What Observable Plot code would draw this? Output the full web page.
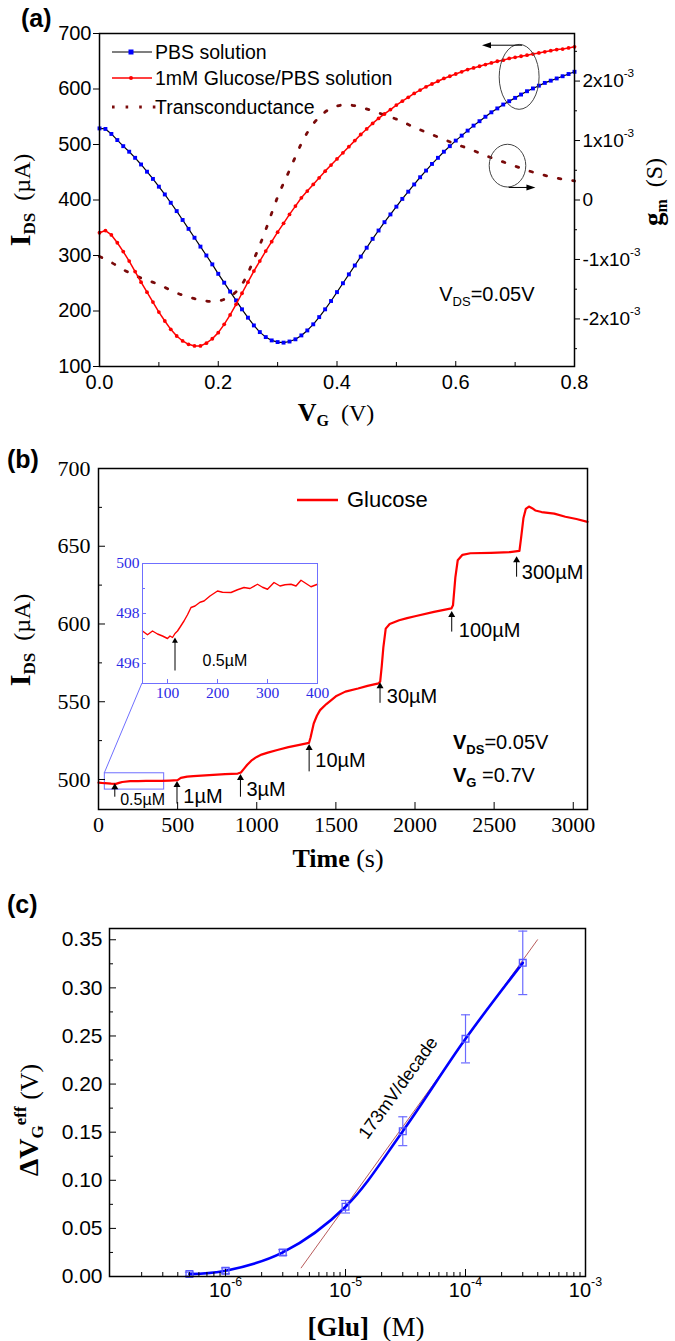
<!DOCTYPE html>
<html>
<head>
<meta charset="utf-8">
<script src="https://cdn.jsdelivr.net/npm/d3@7"></script>
<script src="https://cdn.jsdelivr.net/npm/@observablehq/plot@0.6"></script>
<style>
  html,body{margin:0;padding:0;background:#fff;}
  #wrap{position:relative;width:675px;height:1341px;overflow:hidden;background:#fff;}
  #wrap svg{position:absolute;left:0;}
  .plab{position:absolute;font-family:"Liberation Sans",Arial,sans-serif;font-weight:bold;font-size:25px;line-height:1;}
</style>
</head>
<body>
<div id="wrap">
  <div class="plab" style="left:21px;top:6px">(a)</div>
  <div class="plab" style="left:7px;top:447px">(b)</div>
  <div class="plab" style="left:7px;top:892px">(c)</div>
</div>
<script>
const SANS = "Liberation Sans, Arial, sans-serif";
const SERIF = "Liberation Serif, Times New Roman, serif";

// ================= DATA =================
// Panel (a): transfer curves, VG (V) vs IDS (µA)
const vg = [0.00,0.01,0.02,0.03,0.04,0.05,0.06,0.07,0.08,0.09,0.10,0.11,0.12,0.13,0.14,0.15,0.16,0.17,0.18,0.19,0.20,0.21,0.22,0.23,0.24,0.25,0.26,0.27,0.28,0.29,0.30,0.31,0.32,0.33,0.34,0.35,0.36,0.37,0.38,0.39,0.40,0.41,0.42,0.43,0.44,0.45,0.46,0.47,0.48,0.49,0.50,0.51,0.52,0.53,0.54,0.55,0.56,0.57,0.58,0.59,0.60,0.61,0.62,0.63,0.64,0.65,0.66,0.67,0.68,0.69,0.70,0.71,0.72,0.73,0.74,0.75,0.76,0.77,0.78,0.79,0.80];
const idsPBS = [529,528,519,508,497,487,476,464,451,438,
  424,410,395,380,364,348,332,316,300,284,
  267,251,235,219,203,188,174,162,153,147,
  144,143,145,149,156,165,176,189,203,218,
  234,250,266,282,298,314,330,345,360,374,
  388,402,415,428,441,453,465,476,487,497,
  507,516,525,534,542,550,558,565,572,578,
  584,590,596,601,606,611,615,619,623,627,
  631];
const idsGlu = [341,345,337,323,307,290,271,252,234,216,
  198,182,167,155,146,140,137,137,142,150,
  161,176,193,212,232,252,272,290,308,325,
  342,358,374,389,404,416,428,440,452,463,
  474,485,496,507,518,528,538,547,555,563,
  571,578,585,592,598,604,609,614,619,623,
  627,631,635,638,641,644,647,650,652,655,
  657,659,661,663,665,667,669,671,672,674,
  676];
// transconductance gm (units of 1e-3 S)
const gmV = [0,0.02,0.04,0.06,0.08,0.10,0.12,0.14,0.16,0.18,0.20,0.22,0.24,0.26,0.28,0.30,0.32,0.34,0.36,0.38,0.40,0.42,0.44,0.46,0.48,0.50,0.52,0.54,0.56,0.58,0.60,0.62,0.64,0.66,0.68,0.70,0.72,0.74,0.76,0.78,0.80];
const gmMilli = [-0.95,-1.05,-1.17,-1.27,-1.35,-1.42,-1.52,-1.60,-1.66,-1.70,
  -1.70,-1.62,-1.42,-1.00,-0.50,0.05,0.50,0.95,1.28,1.48,
  1.58,1.60,1.56,1.50,1.43,1.36,1.27,1.18,1.10,1.02,
  0.94,0.87,0.79,0.71,0.64,0.57,0.50,0.44,0.39,0.35,
  0.32];
const legendA = ["PBS solution", "1mM Glucose/PBS solution", "Transconductance"];
const ticksAx = [0, 0.2, 0.4, 0.6, 0.8];
const ticksAxMinor = [0.1, 0.3, 0.5, 0.7];
const ticksAy = [100, 200, 300, 400, 500, 600, 700];
const ticksAgm = [-2e-3, -1e-3, 0, 1e-3, 2e-3];
const ticksAgmMinor = [-2.5e-3, -1.5e-3, -0.5e-3, 0.5e-3, 1.5e-3, 2.5e-3];

// Panel (b): real-time response, time (s) vs IDS (µA)
const tB = [0,40,80,110,130,150,200,250,300,350,
  400,450,500,520,560,600,700,800,880,900,
  920,940,970,1000,1030,1070,1130,1200,1270,1330,
  1340,1360,1380,1400,1440,1500,1560,1640,1700,1770,
  1780,1790,1800,1815,1840,1900,1950,2000,2120,2230,
  2240,2255,2270,2300,2350,2480,2600,2660,2670,2685,
  2700,2720,2740,2760,2800,2880,2950,3020,3090];
const iB = [498.0,497.6,497.3,497.2,497.8,498.4,498.9,499.0,499.1,499.1,
  499.1,499.3,499.6,501.0,501.8,502.2,502.8,503.4,503.8,504.5,
  507,509.5,512.5,514.5,516,517.3,519,520.8,522.3,523.5,
  527,536,541,544.6,548.5,553.5,556.5,558.5,560.2,561.8,
  563,573,585,597,600,602.4,603.8,605,607.8,610,
  612,630,641,644.5,645.5,645.8,646.2,647,655,668,
  674,675.5,674.5,673,672,671,669,667.5,665.7];
// inset (0.5 µM addition)
const tIn = [50,60,70,80,90,100,105,110,115,120,
  125,133,140,147,155,165,173,185,200,210,
  227,240,253,265,280,290,300,313,325,335,
  347,357,367,377,387,400];
const iIn = [497.3,497.15,497.3,497.18,497.1,497.0,497.1,497.04,497.2,497.3,
  497.45,497.7,497.95,498.24,498.3,498.45,498.5,498.7,498.9,498.85,
  498.84,498.95,499.04,499.0,499.17,499.05,498.97,499.24,499.1,499.15,
  499.17,499.1,499.33,499.2,499.07,499.17];
const stepLabels = ["0.5µM","1µM","3µM","10µM","30µM","100µM","300µM"];
const stepTimes = [103, 496, 897, 1331, 1779, 2232, 2642];
const ticksBx = [0, 500, 1000, 1500, 2000, 2500, 3000];
const ticksBy = [500, 550, 600, 650, 700];
const ticksByMinor = [525, 575, 625, 675];
const ticksInX = [100, 200, 300, 400];
const ticksInY = [496, 498, 500];
const ticksInYMinor = [497, 499];

// Panel (c): calibration
const glu = [5e-7, 1e-6, 3e-6, 1e-5, 3e-5, 1e-4, 3e-4];
const dVg = [0.0025, 0.0059, 0.025, 0.0725, 0.151, 0.247, 0.326];
const dVgErr = [0.002, 0.003, 0.003, 0.0065, 0.015, 0.025, 0.033];
const fitGlu = [4.27e-6, 3.98e-4];
const fitV = [0.009, 0.350];
const ticksCx = [1e-6, 1e-5, 1e-4, 1e-3];
const ticksCxMinor = [2e-7,3e-7,4e-7,5e-7,6e-7,7e-7,8e-7,9e-7,2e-6,3e-6,4e-6,5e-6,6e-6,7e-6,8e-6,9e-6,2e-5,3e-5,4e-5,5e-5,6e-5,7e-5,8e-5,9e-5,2e-4,3e-4,4e-4,5e-4,6e-4,7e-4,8e-4,9e-4];
const ticksCy = [0, 0.05, 0.10, 0.15, 0.20, 0.25, 0.30, 0.35];
const ticksCyMinor = [0.025, 0.075, 0.125, 0.175, 0.225, 0.275, 0.325];

// ================= HELPERS =================
const wrap = document.getElementById("wrap");
function place(svg, left, top) { svg.style.left = left + "px"; svg.style.top = top + "px"; wrap.appendChild(svg); }
function rich(sel, x, y, parts, {anchor = "middle", rotate = 0, family = SERIF} = {}) {
  const t = sel.append("text").attr("text-anchor", anchor).attr("font-family", family)
    .attr("fill", "black").style("white-space", "pre")
    .attr("transform", `translate(${x},${y}) rotate(${rotate})`);
  let cur = 0;
  parts.forEach(p => {
    const sh = p.sh || 0;
    const ts = t.append("tspan").text(p.t).attr("font-size", p.s)
      .attr("font-weight", p.b ? "bold" : "normal").attr("dy", sh - cur);
    if (p.f) ts.attr("font-family", p.f);
    cur = sh;
  });
  return t;
}
function supify(svgEl) {
  d3.select(svgEl).selectAll("text").each(function () {
    const s = this.textContent;
    if (!s.includes("^")) return;
    const [base, sup] = s.split("^");
    const el = d3.select(this); el.text(null);
    el.append("tspan").text(base);
    el.append("tspan").text(sup).attr("dy", "-0.85em").attr("font-size", "0.62em");
  });
}
function arrowH(g, x1, x2, y) {
  const dir = Math.sign(x2 - x1);
  g.append("line").attr("x1", x1).attr("x2", x2 - dir * 6).attr("y1", y).attr("y2", y)
    .attr("stroke", "black").attr("stroke-width", 1);
  g.append("path").attr("d", `M${x2},${y}L${x2 - dir * 9},${y - 3}L${x2 - dir * 9},${y + 3}Z`).attr("fill", "black");
}

// ================= PANEL (a) =================
const aW = 675, aH = 440, aML = 99, aMR = 101, aMT = 33, aMB = 74;
const aFW = aW - aML - aMR, aFH = aH - aMT - aMB;
const pbs = vg.map((v, k) => ({v, i: idsPBS[k]}));
const gluA = vg.map((v, k) => ({v, i: idsGlu[k]}));
const gm = gmV.map((v, k) => ({v, g: gmMilli[k] * 1e-3}));
const gmToI = d3.scaleLinear([-2.8e-3, 2.8e-3], [100, 700]);
const fmtGm = d => d === 0 ? "0" : `${Math.round(d / 1e-3)}x10^-3`;

const plotA = Plot.plot({
  width: aW, height: aH, marginLeft: aML, marginRight: aMR, marginTop: aMT, marginBottom: aMB,
  x: {domain: [0, 0.8]},
  y: {domain: [100, 700]},
  style: {fontFamily: SANS, fontSize: "20px", background: "transparent", color: "black", overflow: "visible"},
  marks: [
    Plot.line(gm, {x: "v", y: d => gmToI(d.g), stroke: "#7a0a0a", strokeWidth: 2.8, strokeDasharray: "2.6,12", curve: "natural"}),
    Plot.line(pbs, {x: "v", y: "i", stroke: "black", strokeWidth: 1.2}),
    Plot.dot(pbs, {x: "v", y: "i", symbol: "square", r: 2.2, fill: "#0000ff"}),
    Plot.line(gluA, {x: "v", y: "i", stroke: "#ff0000", strokeWidth: 1.5}),
    Plot.dot(gluA, {x: "v", y: "i", r: 1.9, fill: "#ff0000"}),
    Plot.frame({stroke: "black", strokeWidth: 1.5}),
    Plot.axisY(ticksAy, {tickSize: 6, tickPadding: 2, label: null, fontSize: 20, fontFamily: SANS}),
    Plot.axisY(ticksAgm, {anchor: "right", y: gmToI, tickSize: 5, tickPadding: 3, tickFormat: fmtGm, label: null, fontSize: 19, fontFamily: SANS}),
    Plot.tickY(ticksAgmMinor, {y: gmToI, insetLeft: aFW, insetRight: -3}),
    Plot.axisX(ticksAx, {tickSize: 0, tickPadding: 8, tickFormat: d3.format(".1f"), label: null, fontSize: 20, fontFamily: SANS}),
    Plot.tickX(ticksAx, {x: d => d, insetTop: aFH - 5}),
    Plot.tickX(ticksAxMinor, {x: d => d, insetTop: aFH - 4})
  ]
});
supify(plotA);
place(plotA, 0, 0);
{
  const s = d3.select(plotA);
  const sx = plotA.scale("x"), sy = plotA.scale("y");
  // legend
  const lg = s.append("g");
  const rows = [52, 78, 107];
  lg.append("line").attr("x1", 112).attr("x2", 152).attr("y1", rows[0]).attr("y2", rows[0]).attr("stroke", "black").attr("stroke-width", 1.2);
  lg.append("rect").attr("x", 128.5).attr("y", rows[0] - 2.5).attr("width", 5).attr("height", 5).attr("fill", "#0000ff");
  lg.append("line").attr("x1", 112).attr("x2", 152).attr("y1", rows[1]).attr("y2", rows[1]).attr("stroke", "#ff0000").attr("stroke-width", 1.5);
  lg.append("circle").attr("cx", 131).attr("cy", rows[1]).attr("r", 2).attr("fill", "#ff0000");
  lg.append("line").attr("x1", 112).attr("x2", 156).attr("y1", rows[2]).attr("y2", rows[2]).attr("stroke", "#7a0a0a").attr("stroke-width", 2.8).attr("stroke-dasharray", "2.6,11");
  legendA.forEach((t, k) => lg.append("text").attr("x", 155).attr("y", rows[k] + 7).attr("text-anchor", "start")
    .attr("font-family", SANS).attr("font-size", 19.5).attr("fill", "black").text(t));
  // annotation ellipses & arrows (data coordinates)
  const ell = [{v: 0.7076, i: 621, rv: 0.0336, ri: 58.5}, {v: 0.688, i: 461, rv: 0.0308, ri: 38.5}];
  ell.forEach(e => s.append("ellipse").attr("cx", sx.apply(e.v)).attr("cy", sy.apply(e.i))
    .attr("rx", sx.apply(e.v + e.rv) - sx.apply(e.v)).attr("ry", sy.apply(e.i) - sy.apply(e.i + e.ri))
    .attr("fill", "none").attr("stroke", "#444").attr("stroke-width", 1));
  arrowH(s, sx.apply(0.7126), sx.apply(0.645), sy.apply(678));
  arrowH(s, sx.apply(0.69), sx.apply(0.735), sy.apply(421.7));
  // VDS text
  rich(s, sx.apply(0.573), sy.apply(230) + 7, [{t: "V", s: 20}, {t: "DS", s: 13, sh: 5}, {t: "=0.05V", s: 20}], {anchor: "start", family: SANS});
  // axis titles
  rich(s, 30, 200, [{t: "I", s: 30, b: true}, {t: "DS", s: 17, b: true, sh: 5}, {t: "  (µA)", s: 24}], {rotate: -90});
  rich(s, 662, 192, [{t: "g", s: 27, b: true}, {t: "m", s: 16, b: true, sh: 5}, {t: "  (S)", s: 24}], {rotate: -90});
  rich(s, 336, 421, [{t: "V", s: 26, b: true}, {t: "G", s: 16, b: true, sh: 5}, {t: "  (V)", s: 24}]);
}

// ================= PANEL (b) =================
const bW = 675, bH = 440, bML = 98, bMR = 88, bMT = 28, bMB = 71;
const bFW = bW - bML - bMR, bFH = bH - bMT - bMB;
const seriesB = tB.map((t, k) => ({t, i: iB[k]}));
const stepAnn = stepLabels.map((label, k) => ({label, t: stepTimes[k]}));
// arrow geometry for step annotations (data units: IDS at arrow tail/head, label anchor)
const stepY1 = [488.6, 484.2, 488.6, 504.9, 549, 594.8, 630.1];
const stepY2 = [495.0, 496.5, 500.9, 520.3, 560, 605.8, 641];
const labT = [137, 536, 935, 1370, 1822, 2277, 2675];
const labY = [486.8, 488.7, 493.2, 512, 553, 596, 633.3];
const plotB = Plot.plot({
  width: bW, height: bH, marginLeft: bML, marginRight: bMR, marginTop: bMT, marginBottom: bMB,
  x: {domain: [0, 3090]},
  y: {domain: [480.7, 700]},
  style: {fontFamily: SERIF, fontSize: "22px", background: "transparent", color: "black", overflow: "visible"},
  marks: [
    Plot.rect([0], {x1: () => 40, x2: () => 415, y1: () => 493.5, y2: () => 504, stroke: "#6f6fff", fill: "none", strokeWidth: 1}),
    Plot.line(seriesB, {x: "t", y: "i", stroke: "#ff0000", strokeWidth: 2.2}),
    Plot.ruleX(stepAnn, {x: "t", y1: (d, k) => stepY1[k], y2: (d, k) => stepY2[k], stroke: "black", strokeWidth: 1}),
    Plot.dot(stepAnn, {x: "t", y: (d, k) => stepY2[k], symbol: "triangle", r: 2.6, fill: "black"}),
    Plot.text(stepAnn, {x: (d, k) => labT[k], y: (d, k) => labY[k], text: "label", textAnchor: "start", fontFamily: SANS, fontSize: (d, k) => k === 0 ? 16 : 20}),
    Plot.frame({stroke: "black", strokeWidth: 1.5}),
    Plot.axisY(ticksBy, {tickSize: 0, tickPadding: 8, label: null, fontSize: 22, fontFamily: SERIF}),
    Plot.tickY(ticksBy, {y: d => d, insetRight: bFW - 7}),
    Plot.tickY(ticksByMinor, {y: d => d, insetRight: bFW - 4}),
    Plot.axisX(ticksBx, {tickSize: 0, tickPadding: 7, tickFormat: d3.format("d"), label: null, fontSize: 22, fontFamily: SERIF}),
    Plot.tickX(ticksBx, {x: d => d, insetTop: bFH - 7})
  ]
});
place(plotB, 0, 440);

// inset
const inL = 100, inT = 540, inW = 230, inH = 175, inML = 42, inMR = 13, inMT = 23, inMB = 32;
const insetData = tIn.map((t, k) => ({t, i: iIn[k]}));
const plotIn = Plot.plot({
  width: inW, height: inH, marginLeft: inML, marginRight: inMR, marginTop: inMT, marginBottom: inMB,
  x: {domain: [50, 400]},
  y: {domain: [495.2, 500]},
  style: {fontFamily: SERIF, fontSize: "15.5px", background: "transparent", color: "#2a2ae6", overflow: "visible"},
  marks: [
    Plot.line(insetData, {x: "t", y: "i", stroke: "#ff0000", strokeWidth: 1.4}),
    Plot.frame({stroke: "#6f6fff", strokeWidth: 1}),
    Plot.axisY(ticksInY, {tickSize: 0, tickPadding: 3, label: null, fontSize: 15.5, fontFamily: SERIF, fill: "#2a2ae6"}),
    Plot.tickY(ticksInY, {y: d => d, insetRight: inW - inML - inMR - 4, stroke: "#6f6fff"}),
    Plot.tickY(ticksInYMinor, {y: d => d, insetRight: inW - inML - inMR - 3, stroke: "#6f6fff"}),
    Plot.axisX(ticksInX, {tickSize: 0, tickPadding: 3, label: null, fontSize: 15.5, fontFamily: SERIF, fill: "#2a2ae6"}),
    Plot.tickX(ticksInX, {x: d => d, insetTop: inH - inMT - inMB - 4, stroke: "#6f6fff"}),
    Plot.ruleX([0], {x: () => 115, y1: () => 495.7, y2: () => 496.9, stroke: "black", strokeWidth: 1}),
    Plot.dot([0], {x: () => 115, y: () => 496.9, symbol: "triangle", r: 2.2, fill: "black"}),
    Plot.text(["0.5µM"], {x: () => 170, y: () => 496.1, text: d => d, textAnchor: "start", fill: "black", fontFamily: SANS, fontSize: 16})
  ]
});
place(plotIn, inL, inT);
{
  const s = d3.select(plotB);
  const sx = plotB.scale("x"), sy = plotB.scale("y");
  // connector: rect top-left corner to inset bottom-left corner
  const ix = inL + inML, iy = (inT - 440) + (inH - inMB);
  s.append("line").attr("x1", sx.apply(40)).attr("y1", sy.apply(504)).attr("x2", ix).attr("y2", iy)
    .attr("stroke", "#6f6fff").attr("stroke-width", 1);
  // legend
  s.append("line").attr("x1", 297).attr("x2", 338).attr("y1", 60).attr("y2", 60).attr("stroke", "#ff0000").attr("stroke-width", 2.5);
  s.append("text").attr("x", 347).attr("y", 67).attr("text-anchor", "start").attr("fill", "black")
    .attr("font-family", SANS).attr("font-size", 22).text("Glucose");
  rich(s, 453, 309, [{t: "V", s: 20, b: true, f: SANS}, {t: "DS", s: 13, b: true, sh: 5, f: SANS}, {t: "=0.05V", s: 20, f: SANS}], {anchor: "start", family: SANS});
  rich(s, 453, 342, [{t: "V", s: 20, b: true, f: SANS}, {t: "G", s: 13, b: true, sh: 5, f: SANS}, {t: " =0.7V", s: 20, f: SANS}], {anchor: "start", family: SANS});
  // titles
  rich(s, 338, 427, [{t: "Time", s: 26, b: true}, {t: " (s)", s: 26}]);
  rich(s, 30, 200, [{t: "I", s: 30, b: true}, {t: "DS", s: 17, b: true, sh: 5}, {t: "  (µA)", s: 24}], {rotate: -90});
}

// ================= PANEL (c) =================
const cW = 675, cH = 461, cML = 109, cMR = 90, cMT = 48, cMB = 65;
const cFW = cW - cML - cMR, cFH = cH - cMT - cMB;
const calib = glu.map((c, k) => ({c, v: dVg[k], e: dVgErr[k]}));
const fit = fitGlu.map((c, k) => ({c, v: fitV[k]}));
const capSymbol = {draw(ctx) { ctx.moveTo(-4.5, 0); ctx.lineTo(4.5, 0); }};
const slopeNote = [{c: Math.pow(10, -4.561), v: 0.196, text: "173mV/decade"}];
const fmtPow = d => `10^-${Math.round(-Math.log10(d))}`;
const plotC = Plot.plot({
  width: cW, height: cH, marginLeft: cML, marginRight: cMR, marginTop: cMT, marginBottom: cMB,
  x: {type: "log", domain: [Math.pow(10, -6.967), 1e-3]},
  y: {domain: [0, 0.3617]},
  style: {fontFamily: SANS, fontSize: "21px", background: "transparent", color: "black", overflow: "visible"},
  marks: [
    Plot.line(fit, {x: "c", y: "v", stroke: "#b04848", strokeWidth: 0.9}),
    Plot.ruleX(calib, {x: "c", y1: d => d.v - d.e, y2: d => d.v + d.e, stroke: "#6b6bff", strokeWidth: 1.2}),
    Plot.dot(calib, {x: "c", y: d => d.v - d.e, symbol: capSymbol, stroke: "#6b6bff", strokeWidth: 1.2}),
    Plot.dot(calib, {x: "c", y: d => d.v + d.e, symbol: capSymbol, stroke: "#6b6bff", strokeWidth: 1.2}),
    Plot.line(calib, {x: "c", y: "v", stroke: "#0000ff", strokeWidth: 2.6, curve: "catmull-rom"}),
    Plot.dot(calib, {x: "c", y: "v", symbol: "square", r: 3.8, stroke: "#5a5aff", fill: "none", strokeWidth: 1.3}),
    Plot.text(slopeNote, {x: "c", y: "v", text: "text", rotate: -54, fontSize: 18, fontFamily: SANS}),
    Plot.frame({stroke: "black", strokeWidth: 1.5}),
    Plot.axisY(ticksCy, {tickSize: 0, tickPadding: 7, tickFormat: d3.format(".2f"), label: null, fontSize: 21, fontFamily: SANS}),
    Plot.tickY(ticksCy, {y: d => d, insetRight: cFW - 7}),
    Plot.tickY(ticksCyMinor, {y: d => d, insetRight: cFW - 4}),
    Plot.axisX(ticksCx, {tickSize: 0, tickPadding: 6, tickFormat: fmtPow, label: null, fontSize: 20, fontFamily: SANS}),
    Plot.tickX(ticksCx, {x: d => d, insetTop: cFH - 7}),
    Plot.tickX(ticksCxMinor, {x: d => d, insetTop: cFH - 4})
  ]
});
supify(plotC);
place(plotC, 0, 880);
{
  const s = d3.select(plotC);
  rich(s, 38, 240, [{t: "ΔV", s: 28, b: true}, {t: "G", s: 17, b: true, sh: 5}, {t: "eff", s: 17, b: true, sh: -12}, {t: " (V)", s: 26}], {rotate: -90});
  rich(s, 366, 456, [{t: "[Glu]", s: 27, b: true}, {t: "  (M)", s: 27}]);
}
</script>
</body>
</html>
